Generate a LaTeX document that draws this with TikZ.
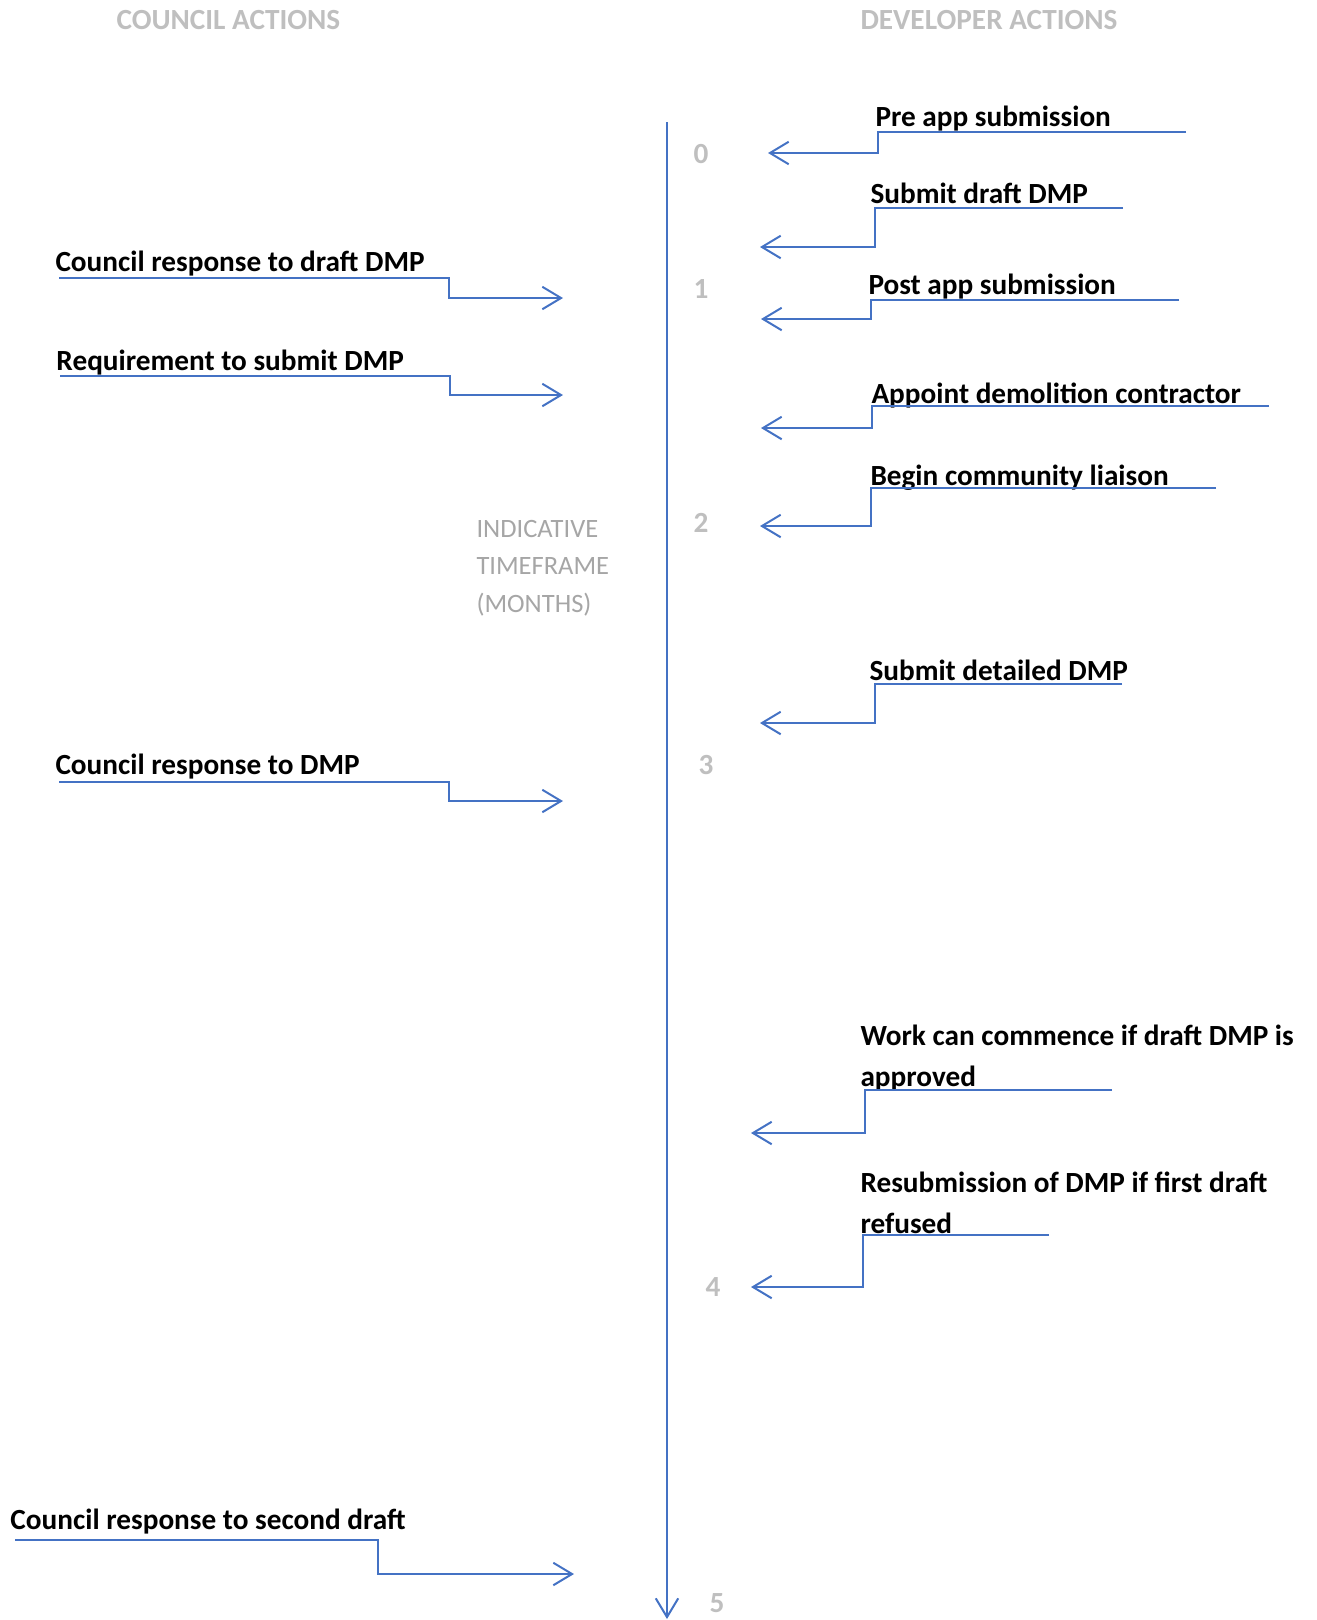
\documentclass[tikz,border=0pt]{standalone}
\usepackage{fontspec}
\setmainfont{Carlito}
\usetikzlibrary{arrows.meta}
\definecolor{lineblue}{RGB}{68,114,196}
\definecolor{headgray}{RGB}{191,191,191}
\definecolor{notegray}{RGB}{166,166,166}

\begin{document}
\begin{tikzpicture}[x=0.4pt, y=-0.4pt,
  act/.style={anchor=base west, inner sep=0pt, align=left, font=\fontsize{11.7}{16.4}\selectfont\bfseries},
  head/.style={anchor=base west, inner sep=0pt, text=headgray, font=\fontsize{11.7}{14}\selectfont\bfseries},
  month/.style={anchor=base, inner sep=0pt, text=headgray, font=\fontsize{11.7}{14}\selectfont\bfseries},
  flow/.style={lineblue, line width=0.8pt, -{Straight Barb[length=7.5pt,width=9pt]}}]

\useasboundingbox (0,0) rectangle (1317,1620);

% headings
\node[head] (council) at (116,29.5) {COUNCIL ACTIONS};
\node[head] (developer) at (860,29.5) {DEVELOPER ACTIONS};

% time axis
\coordinate (axtop) at (667,122);
\coordinate (axend) at (667,1619);
\draw[flow] (axtop) -- (axend);

% base of a multi-line node = last line
\node[anchor=base west, inner sep=0pt, align=left, text=notegray,
      font=\fontsize{10.6}{15.1}\selectfont] (note) at (476,612.5)
      {INDICATIVE\\TIMEFRAME\\(MONTHS)};

\node[month] (m0) at (701,163.5) {0};
\node[month] (m1) at (701,298.5) {1};
\node[month] (m2) at (701,532.5) {2};
\node[month] (m3) at (706,774.5) {3};
\node[month] (m4) at (713,1296.5) {4};
\node[month] (m5) at (717,1612.5) {5};

% developer actions
\node[act] (pre) at (875,126.5) {Pre app submission};
\coordinate (preS) at (1186,132);
\coordinate (preK) at (878,142);
\coordinate (preT) at (768,153);
\draw[flow] (preS) -| (preK) |- (preT);

\node[act] (draft) at (870,203.5) {Submit draft DMP};
\coordinate (draftS) at (1123,208);
\coordinate (draftK) at (875,228);
\coordinate (draftT) at (760,247);
\draw[flow] (draftS) -| (draftK) |- (draftT);

\node[act] (post) at (868,294.5) {Post app submission};
\coordinate (postS) at (1179,300);
\coordinate (postK) at (871,310);
\coordinate (postT) at (761,319);
\draw[flow] (postS) -| (postK) |- (postT);

\node[act] (appoint) at (871,403.5) {Appoint demolition contractor};
\coordinate (appointS) at (1269,406);
\coordinate (appointK) at (872,417);
\coordinate (appointT) at (761,428);
\draw[flow] (appointS) -| (appointK) |- (appointT);

\node[act] (liaison) at (870,485.5) {Begin community liaison};
\coordinate (liaisonS) at (1216,488);
\coordinate (liaisonK) at (871,507);
\coordinate (liaisonT) at (760,526);
\draw[flow] (liaisonS) -| (liaisonK) |- (liaisonT);

\node[act] (detail) at (869,680.5) {Submit detailed DMP};
\coordinate (detailS) at (1122,684);
\coordinate (detailK) at (875,703);
\coordinate (detailT) at (760,723);
\draw[flow] (detailS) -| (detailK) |- (detailT);

\node[act] (work) at (860,1086.5) {Work can commence if draft DMP is\\approved};
\coordinate (workS) at (1112,1090);
\coordinate (workK) at (865,1111);
\coordinate (workT) at (751,1133);
\draw[flow] (workS) -| (workK) |- (workT);

\node[act] (resub) at (860,1233.5) {Resubmission of DMP if first draft\\refused};
\coordinate (resubS) at (1049,1235);
\coordinate (resubK) at (863,1261);
\coordinate (resubT) at (751,1287);
\draw[flow] (resubS) -| (resubK) |- (resubT);

% council actions
\node[act] (resp) at (55,271.5) {Council response to draft DMP};
\coordinate (respS) at (59,278);
\coordinate (respK) at (449,288);
\coordinate (respT) at (563,298);
\draw[flow] (respS) -| (respK) |- (respT);

\node[act] (req) at (56,370.5) {Requirement to submit DMP};
\coordinate (reqS) at (60,376);
\coordinate (reqK) at (450,385);
\coordinate (reqT) at (563,395);
\draw[flow] (reqS) -| (reqK) |- (reqT);

\node[act] (respdmp) at (55,774.5) {Council response to DMP};
\coordinate (respdmpS) at (59,782);
\coordinate (respdmpK) at (449,791);
\coordinate (respdmpT) at (563,801);
\draw[flow] (respdmpS) -| (respdmpK) |- (respdmpT);

\node[act] (second) at (10,1529.5) {Council response to second draft};
\coordinate (secondS) at (15,1540);
\coordinate (secondK) at (378,1557);
\coordinate (secondT) at (574,1574);
\draw[flow] (secondS) -| (secondK) |- (secondT);

\end{tikzpicture}
\end{document}
